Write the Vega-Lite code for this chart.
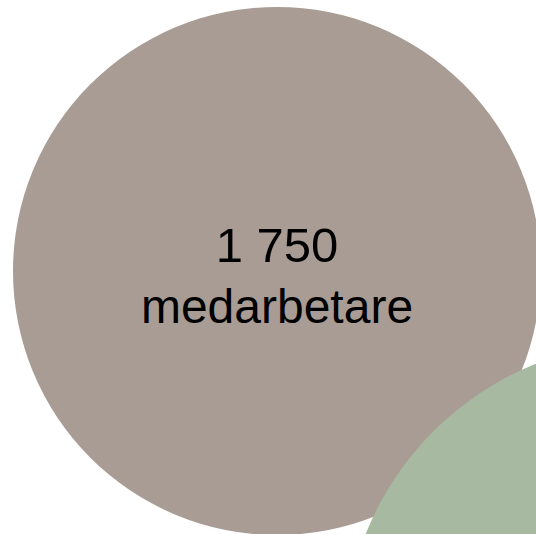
{
  "$schema": "https://vega.github.io/schema/vega-lite/v6.json",
  "width": 536,
  "height": 534,
  "autosize": {"type": "fit", "contains": "padding"},
  "padding": 0,
  "background": "#ffffff",
  "config": {
    "view": {"stroke": null},
    "locale": {"number": {"decimal": ",", "thousands": " ", "grouping": [3], "currency": ["", " kr"]}}
  },
  "data": {
    "values": [
      {"grupp": "medarbetare", "antal": 1750, "enhet": "medarbetare", "x": 277, "y": 271},
      {"grupp": "övrigt", "antal": 2336, "enhet": "", "x": 649, "y": 647}
    ]
  },
  "encoding": {
    "x": {"field": "x", "type": "quantitative", "scale": {"domain": [0, 536], "nice": false, "zero": false}, "axis": null},
    "y": {"field": "y", "type": "quantitative", "scale": {"domain": [0, 534], "reverse": true, "nice": false, "zero": false}, "axis": null}
  },
  "layer": [
    {
      "mark": {"type": "point", "shape": "circle", "filled": true, "opacity": 1, "clip": true, "strokeWidth": 0},
      "encoding": {
        "size": {"field": "antal", "type": "quantitative", "scale": {"type": "linear", "domain": [0, 1750], "range": [0, 278784], "zero": true}, "legend": null},
        "color": {"field": "grupp", "type": "nominal", "scale": {"domain": ["medarbetare", "övrigt"], "range": ["#a89c94", "#a7b9a0"]}, "legend": null}
      }
    },
    {
      "transform": [{"filter": "datum.grupp === 'medarbetare'"}],
      "mark": {"type": "text", "font": "Liberation Sans", "fontSize": 49, "baseline": "alphabetic", "align": "center", "dy": -9, "color": "#000000"},
      "encoding": {"text": {"field": "antal", "type": "quantitative", "format": ",d"}}
    },
    {
      "transform": [{"filter": "datum.grupp === 'medarbetare'"}],
      "mark": {"type": "text", "font": "Liberation Sans", "fontSize": 48, "baseline": "alphabetic", "align": "center", "dy": 52, "color": "#000000"},
      "encoding": {"text": {"field": "enhet", "type": "nominal"}}
    }
  ]
}
